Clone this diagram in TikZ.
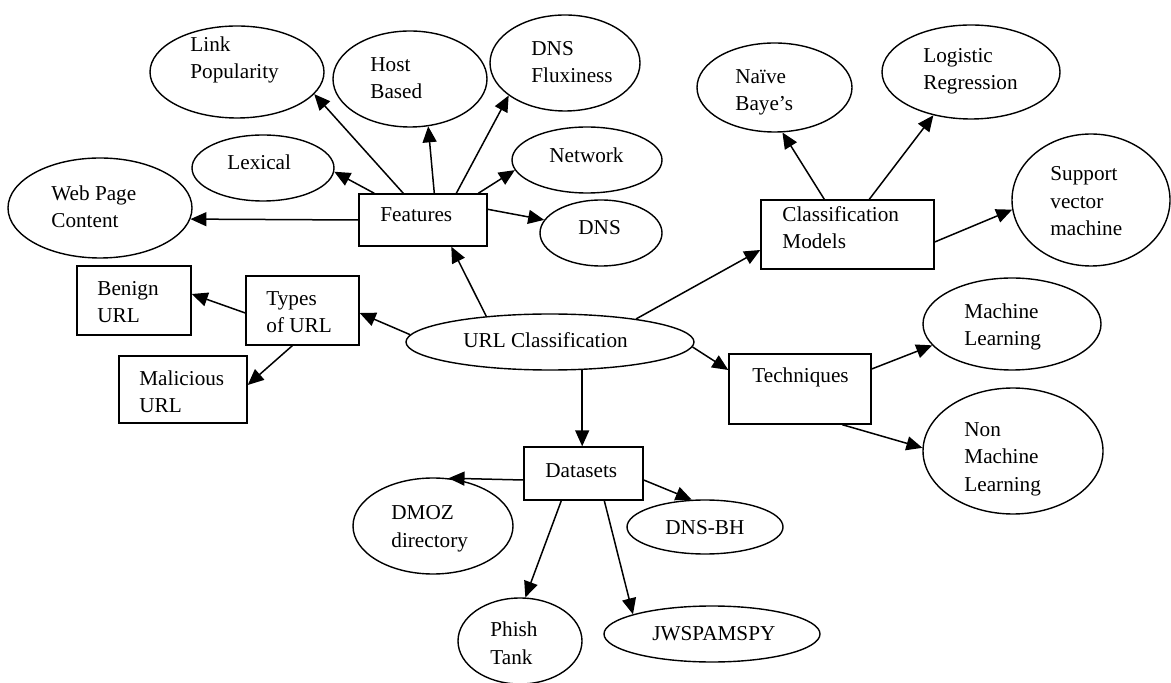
\documentclass[tikz,border=0pt]{standalone}
\usepackage{fontspec}
\setmainfont{Liberation Serif}
\usetikzlibrary{shapes.geometric,arrows.meta,calc}
\begin{document}
\begin{tikzpicture}[x=0.5pt,y=-0.5pt,
  ell/.style={draw,ellipse,inner sep=0pt,line width=0.7pt},
  box/.style={draw,rectangle,inner sep=0pt,line width=0.7pt},
  txt/.style={anchor=base west,inner sep=0pt,align=left,font=\fontsize{10.6}{13.75}\selectfont},
  arr/.style={line width=0.75pt,-{Triangle[length=8pt,width=7pt]}}]
\useasboundingbox (0,0) rectangle (1171,683);
% ellipses
\node[ell,minimum width=87pt,minimum height=46pt] (link) at (237,72) {};
\node[ell,minimum width=77pt,minimum height=48pt] (host) at (410,79) {};
\node[ell,minimum width=75pt,minimum height=48pt] (flux) at (565,63) {};
\node[ell,minimum width=75pt,minimum height=33pt] (network) at (587,160) {};
\node[ell,minimum width=71pt,minimum height=33pt] (lexical) at (263,168) {};
\node[ell,minimum width=92pt,minimum height=50pt] (web) at (100,208) {};
\node[ell,minimum width=61pt,minimum height=33pt] (dns) at (601,233) {};
\node[ell,minimum width=144pt,minimum height=28pt] (url) at (550,342) {};
\node[ell,minimum width=77.5pt,minimum height=44.5pt] (naive) at (774.5,87.5) {};
\node[ell,minimum width=89pt,minimum height=47pt] (logistic) at (971,72) {};
\node[ell,minimum width=79pt,minimum height=66pt] (svm) at (1091,200) {};
\node[ell,minimum width=89pt,minimum height=46pt] (ml) at (1012,324) {};
\node[ell,minimum width=90pt,minimum height=63pt] (nonml) at (1013,451) {};
\node[ell,minimum width=80pt,minimum height=48pt] (dmoz) at (433,526) {};
\node[ell,minimum width=78pt,minimum height=27pt] (dnsbh) at (705,527) {};
\node[ell,minimum width=62pt,minimum height=43pt] (phish) at (520,641) {};
\node[ell,minimum width=108pt,minimum height=28pt] (jw) at (712,634) {};
% boxes
\node[box,minimum width=64pt,minimum height=26pt] (features) at (423,220) {};
\node[box,minimum width=56.5pt,minimum height=34.5pt] (types) at (302.5,310.5) {};
\node[box,minimum width=57pt,minimum height=34.5pt] (benign) at (134,300.5) {};
\node[box,minimum width=64pt,minimum height=33.5pt] (malicious) at (183,389.5) {};
\node[box,minimum width=86.5pt,minimum height=34.5pt] (models) at (847.5,234.5) {};
\node[box,minimum width=71pt,minimum height=35pt] (techniques) at (800,389) {};
\node[box,minimum width=59.5pt,minimum height=26.5pt] (datasets) at (583.5,473.5) {};
% texts (base = baseline of the last line)
\node[txt] (tlink) at (190,79) {Link\\Popularity};
\node[txt] (thost) at (370,99) {Host\\Based};
\node[txt] (tflux) at (531,83) {DNS\\Fluxiness};
\node[txt] (tnetwork) at (549,163) {Network};
\node[txt] (tlexical) at (227,170) {Lexical};
\node[txt] (tweb) at (51,228) {Web Page\\Content};
\node[txt] (tfeatures) at (380,222) {Features};
\node[txt] (tdns) at (578,235) {DNS};
\node[txt] (ttypes) at (266,333) {Types\\of URL};
\node[txt] (tbenign) at (97,323) {Benign\\URL};
\node[txt] (tmalicious) at (139,413) {Malicious\\URL};
\node[txt] (turl) at (463,348) {URL Classification};
\node[txt] (tmodels) at (782,249) {Classification\\Models};
\node[txt] (tnaive) at (735,111) {Naïve\\Baye’s};
\node[txt] (tlogistic) at (923,90) {Logistic\\Regression};
\node[txt] (tsvm) at (1050,236) {Support\\vector\\machine};
\node[txt] (ttechniques) at (752,383) {Techniques};
\node[txt] (tml) at (964,346) {Machine\\Learning};
\node[txt] (tnonml) at (964,491) {Non\\Machine\\Learning};
\node[txt] (tdatasets) at (545,477) {Datasets};
\node[txt] (tdmoz) at (391,547) {DMOZ\\directory};
\node[txt] (tdnsbh) at (665,534) {DNS-BH};
\node[txt] (tphish) at (490,664) {Phish\\Tank};
\node[txt] (tjw) at (652,640) {JWSPAMSPY};
% connectors
\draw[arr] (features.west) -- (web.-7);
\draw[arr] ($(features.north west)+(16,0)$) -- (lexical.-3);
\draw[arr] ($(features.north west)+(45,0)$) -- (link.-16);
\draw[arr] ($(features.north west)+(76,0)$) -- (host.-69);
\draw[arr] ($(features.north west)+(98,0)$) -- (flux.210);
\draw[arr] ($(features.north west)+(120,0)$) -- (network.-172);
\draw[arr] ($(features.north east)+(0,16)$) -- (dns.167);
\draw[arr] (url.158) -- ($(features.south west)+(93,0)$);
\draw[arr] (url.177) -- ($(types.east)+(0,2.5)$);
\draw[arr] ($(types.west)+(0,2.5)$) -- ($(benign.east)+(0,-6.5)$);
\draw[arr] ($(types.south west)+(47,0)$) -- ($(malicious.east)+(0,-4.5)$);
\draw[arr] (url.15) -- ($(models.west)+(0,15.5)$);
\draw[arr] ($(models.north west)+(64,0)$) -- (naive.-80);
\draw[arr] ($(models.north west)+(109,0)$) -- (logistic.229);
\draw[arr] ($(models.east)+(0,7.5)$) -- (svm.187);
\draw[arr] (url.-2) -- ($(techniques.west)+(0,-19)$);
\draw[arr] ($(techniques.east)+(0,-20)$) -- (ml.195);
\draw[arr] ($(techniques.south west)+(114,0)$) -- (nonml.178);
\draw[arr] (url.-41) -- (url.-41 |- datasets.north);
\draw[arr] ($(datasets.west)+(0,6.5)$) -- (dmoz.72);
\draw[arr] ($(datasets.east)+(0,6.5)$) -- (dnsbh.116);
\draw[arr] ($(datasets.south west)+(38,0)$) -- (phish.83);
\draw[arr] ($(datasets.south west)+(81,0)$) -- (jw.166);
\end{tikzpicture}
\end{document}
